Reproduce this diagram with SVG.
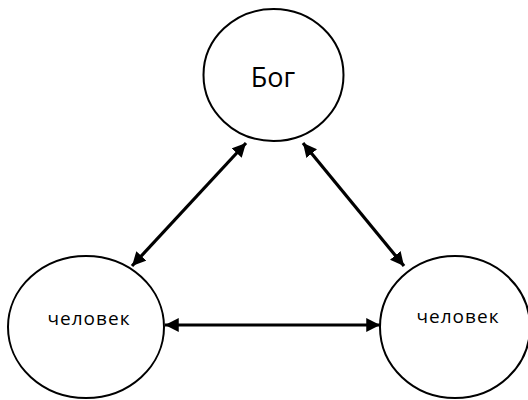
<svg xmlns="http://www.w3.org/2000/svg" width="528" height="400" viewBox="0 0 528 400">
  <style>
    .node { fill: #ffffff; stroke: #000000; stroke-width: 2; }
    .label { font-family: "Open Sans", "Noto Sans", "DejaVu Sans", sans-serif; fill: #000000; text-anchor: middle; }
    .big { font-size: 27px; }
    .small { font-size: 19px; letter-spacing: 1px; }
    .link { stroke: #000000; stroke-width: 3.2; fill: none; marker-start: url(#head); marker-end: url(#head); }
  </style>
  <defs>
    <marker id="head" viewBox="0 0 10 10" refX="10" refY="5" markerWidth="4.3" markerHeight="4.5" orient="auto-start-reverse" markerUnits="strokeWidth">
      <path d="M0,0 L10,5 L0,10 Z" fill="#000000"/>
    </marker>
  </defs>
  <rect width="528" height="400" fill="#ffffff"/>
  <g id="connectors">
    <line class="link" x1="132" y1="266" x2="246" y2="143"/>
    <line class="link" x1="303" y1="143" x2="404" y2="266"/>
    <line class="link" x1="165" y1="325" x2="380" y2="325"/>
  </g>
  <g id="god">
    <ellipse class="node" cx="273.5" cy="75" rx="70" ry="66"/>
    <text class="label big" x="273" y="87">Бог</text>
  </g>
  <g id="human-left">
    <ellipse class="node" cx="86" cy="327" rx="78" ry="71"/>
    <text class="label small" x="89" y="325">человек</text>
  </g>
  <g id="human-right">
    <ellipse class="node" cx="455" cy="327" rx="75" ry="71"/>
    <text class="label small" x="458" y="323">человек</text>
  </g>
</svg>
